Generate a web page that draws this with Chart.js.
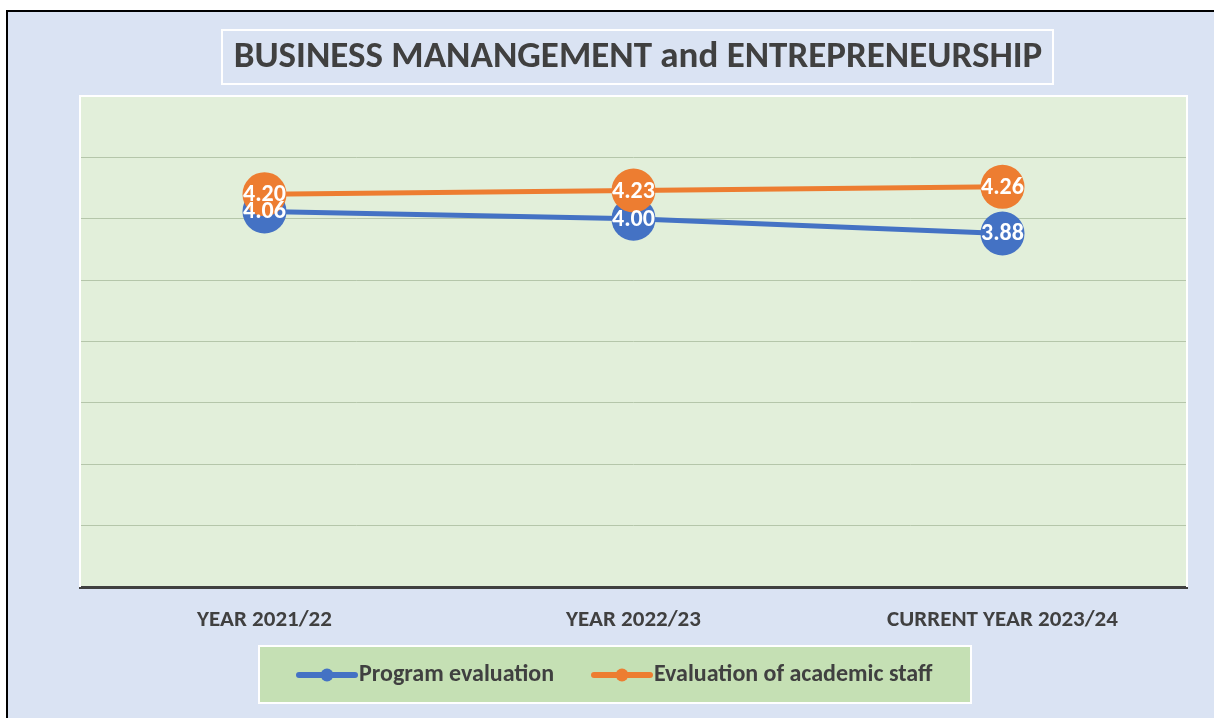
<!DOCTYPE html>
<html>
<head>
<meta charset="utf-8">
<script src="https://cdn.jsdelivr.net/npm/chart.js@4/dist/chart.umd.min.js"></script>
<style>
  html, body { margin: 0; padding: 0; background: #ffffff; }
  #wrap { width: 1214px; height: 718px; }
</style>
</head>
<body>
<div id="wrap"><canvas id="chart" width="1214" height="718"></canvas></div>
<script>
// chart data
const years = ['YEAR 2021/22', 'YEAR 2022/23', 'CURRENT YEAR 2023/24'];
const programEval = [4.06, 4.00, 3.88];
const staffEval = [4.20, 4.23, 4.26];
const seriesNames = ['Program evaluation', 'Evaluation of academic staff'];
const chartTitle = 'BUSINESS MANANGEMENT and ENTREPRENEURSHIP';

const FONT = 'Calibri, Carlito, Lato, sans-serif';
const BLUE = '#4472C4';
const ORANGE = '#ED7D31';
const TEXT = '#404040';

// backgrounds, title box and plot area
const frame = {
  id: 'frame',
  beforeDraw(chart) {
    const c = chart.ctx;
    const a = chart.chartArea;
    c.save();
    c.fillStyle = '#ffffff';
    c.fillRect(0, 0, chart.width, chart.height);
    c.fillStyle = '#DAE3F3';
    c.fillRect(7, 11, chart.width - 7, chart.height - 11);
    c.strokeStyle = '#000000';
    c.lineWidth = 2;
    c.beginPath();
    c.moveTo(7, chart.height);
    c.lineTo(7, 11);
    c.lineTo(chart.width, 11);
    c.stroke();

    // title box
    c.strokeStyle = '#ffffff';
    c.lineWidth = 2;
    c.strokeRect(222, 30, 831, 54);
    c.fillStyle = TEXT;
    c.font = 'bold 37px ' + FONT;
    c.textAlign = 'center';
    c.textBaseline = 'middle';
    c.fillText(chartTitle, 638, 58);

    // plot area
    c.fillStyle = '#E2EFDA';
    c.fillRect(a.left, a.top, a.right - a.left, a.bottom - a.top);
    c.restore();
  },
  beforeDatasetsDraw(chart) {
    const c = chart.ctx;
    const a = chart.chartArea;
    c.save();
    c.strokeStyle = '#ffffff';
    c.lineWidth = 2;
    c.beginPath();
    c.moveTo(a.left, a.bottom);
    c.lineTo(a.left, a.top);
    c.lineTo(a.right, a.top);
    c.lineTo(a.right, a.bottom);
    c.stroke();
    c.restore();
  },
  afterDatasetsDraw(chart) {
    // value labels on the points
    const c = chart.ctx;
    c.save();
    c.fillStyle = '#ffffff';
    c.font = 'bold 24px ' + FONT;
    c.textAlign = 'center';
    c.textBaseline = 'middle';
    chart.data.datasets.forEach((ds, i) => {
      chart.getDatasetMeta(i).data.forEach((pt, j) => {
        c.fillText(ds.data[j].toFixed(2), pt.x, pt.y + 1);
      });
    });
    c.restore();
  },
  afterDraw(chart) {
    // legend box
    const c = chart.ctx;
    c.save();
    c.fillStyle = '#C5E0B4';
    c.fillRect(259, 646, 712, 57);
    c.strokeStyle = '#ffffff';
    c.lineWidth = 2;
    c.strokeRect(259, 646, 712, 57);
    const items = [
      { x: 299, color: BLUE, label: seriesNames[0] },
      { x: 594, color: ORANGE, label: seriesNames[1] }
    ];
    c.font = 'bold 24px ' + FONT;
    c.textBaseline = 'middle';
    c.textAlign = 'left';
    items.forEach(it => {
      c.strokeStyle = it.color;
      c.lineWidth = 6;
      c.lineCap = 'round';
      c.beginPath();
      c.moveTo(it.x, 675);
      c.lineTo(it.x + 56, 675);
      c.stroke();
      c.fillStyle = it.color;
      c.beginPath();
      c.arc(it.x + 28, 675, 6.5, 0, Math.PI * 2);
      c.fill();
      c.fillStyle = TEXT;
      c.fillText(it.label, it.x + 60, 675);
    });
    c.restore();
  }
};

new Chart(document.getElementById('chart'), {
  type: 'line',
  data: {
    labels: years,
    datasets: [
      {
        label: seriesNames[0],
        data: programEval,
        borderColor: BLUE,
        backgroundColor: BLUE,
        pointBackgroundColor: BLUE,
        borderWidth: 5,
        pointRadius: 22,
        pointBorderWidth: 0,
        order: 1
      },
      {
        label: seriesNames[1],
        data: staffEval,
        borderColor: ORANGE,
        backgroundColor: ORANGE,
        pointBackgroundColor: ORANGE,
        borderWidth: 5,
        pointRadius: 22,
        pointBorderWidth: 0,
        order: 0
      }
    ]
  },
  options: {
    responsive: false,
    devicePixelRatio: 1,
    animation: false,
    events: [],
    layout: { padding: { top: 96, right: 27, left: 0, bottom: 0 } },
    plugins: {
      legend: { display: false },
      title: { display: false },
      tooltip: { enabled: false }
    },
    scales: {
      x: {
        offset: true,
        grid: { display: false, drawTicks: false },
        border: { display: true, color: '#404040', width: 3 },
        ticks: {
          color: TEXT,
          font: { family: FONT, size: 23, weight: 'bold' },
          padding: 19,
          maxRotation: 0
        },
        afterFit(s) { s.height = 131; }
      },
      y: {
        min: 1,
        max: 5,
        ticks: { display: false, stepSize: 0.5 },
        grid: {
          drawTicks: false,
          lineWidth: 1,
          color: ctx => (ctx.tick && ctx.tick.value >= 5 ? '#ffffff' : '#B5C6AA')
        },
        border: { display: false },
        afterFit(s) { s.width = 80; }
      }
    }
  },
  plugins: [frame]
});
</script>
</body>
</html>
